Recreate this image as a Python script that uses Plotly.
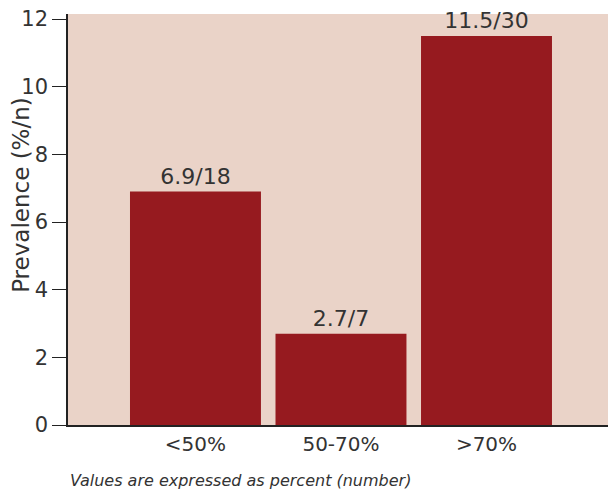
import plotly.graph_objects as go

categories = ["<50%", "50-70%", ">70%"]
prevalence = [6.9, 2.7, 11.5]
counts = [18, 7, 30]
labels = [f"{p}/{n}" for p, n in zip(prevalence, counts)]
y_ticks = [0, 2, 4, 6, 8, 10, 12]

MAIN = "DejaVu Sans, Liberation Sans, Arial"

fig = go.Figure(go.Bar(
    x=list(range(len(categories))), y=prevalence,
    text=labels, textposition="outside", cliponaxis=False,
    textfont=dict(family=MAIN, size=22, color="#333333"),
    marker=dict(color="#961A1F", line=dict(width=0)), width=0.9,
))

fig.update_layout(
    width=608, height=491,
    margin=dict(l=68, r=0, t=14, b=66),
    paper_bgcolor="white", plot_bgcolor="#EAD3C8",
    showlegend=False,
    xaxis=dict(range=[-0.876, 2.835], tickmode="array",
               tickvals=list(range(len(categories))), ticktext=categories,
               showline=True, linecolor="#222222", linewidth=1.5,
               ticks="", showgrid=False, zeroline=False,
               tickfont=dict(family=MAIN, size=20, color="#333333")),
    yaxis=dict(range=[0, 12.15], tickvals=y_ticks,
               showline=True, linecolor="#222222", linewidth=1.5,
               ticks="outside", ticklen=14, tickcolor="#222222", tickwidth=1,
               showgrid=False, zeroline=False,
               tickfont=dict(family="Liberation Sans Narrow, Arial Narrow, DejaVu Sans", size=21, color="#333333")),
    annotations=[
        dict(text="Prevalence (%/n)", textangle=-90,
             xref="paper", yref="paper", x=-0.087, y=0.56,
             xanchor="center", yanchor="middle", showarrow=False,
             font=dict(family=MAIN, size=23, color="#333333")),
        dict(text="<i>Values are expressed as percent (number)</i>",
             xref="paper", yref="paper", x=0, y=-0.134,
             xanchor="left", yanchor="middle", showarrow=False,
             font=dict(family=MAIN, size=16, color="#333333")),
    ],
)

fig.write_html("out.html")
